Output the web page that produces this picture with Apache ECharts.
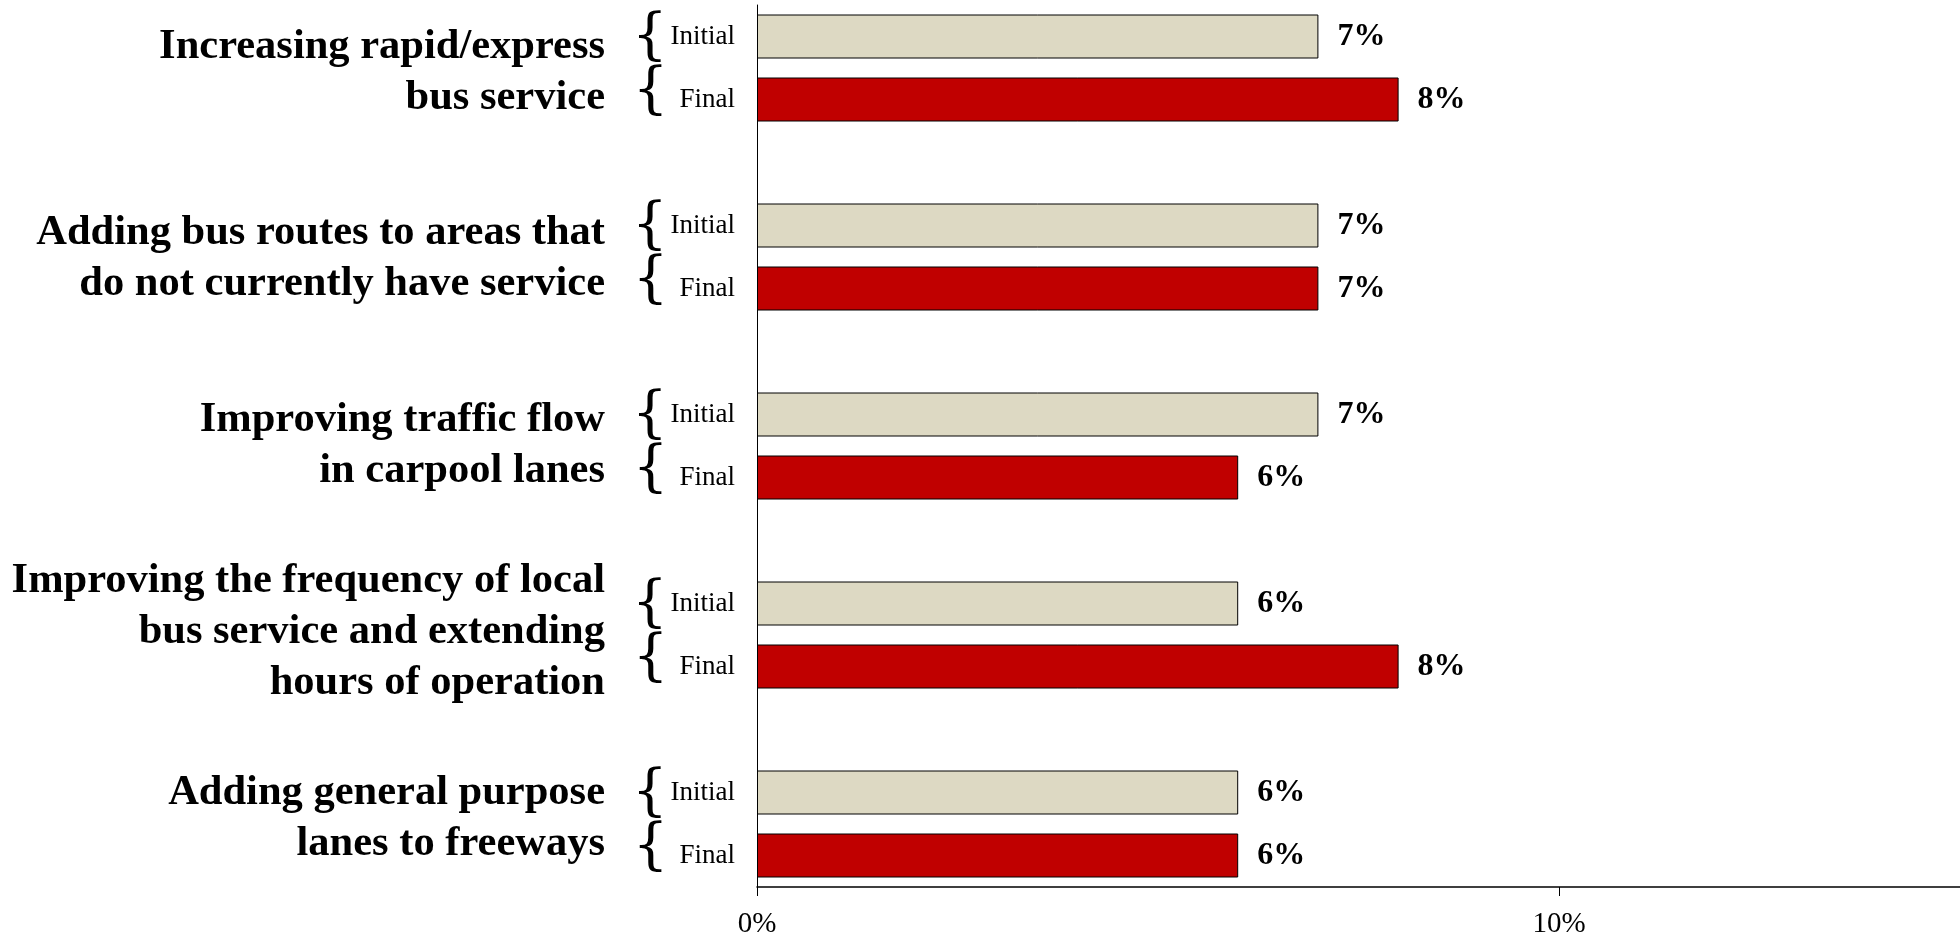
<!DOCTYPE html>
<html>
<head>
<meta charset="utf-8">
<script src="https://cdn.jsdelivr.net/npm/echarts@6/dist/echarts.min.js"></script>
<style>html,body{margin:0;padding:0;background:#fff;}#c{width:1960px;height:938px;}</style>
</head>
<body>
<div id="c"></div>
<script>
const groupNames = [
  'Increasing rapid/express\nbus service',
  'Adding bus routes to areas that\ndo not currently have service',
  'Improving traffic flow\nin carpool lanes',
  'Improving the frequency of local\nbus service and extending\nhours of operation',
  'Adding general purpose\nlanes to freeways'
];
const seriesNames = ['Initial', 'Final'];
const initialValues = [7, 7, 7, 6, 6];
const finalValues = [8, 7, 6, 8, 6];
const xTickValues = [0, 10];

// rows: Initial, Final, gap per group
const rowKeys = [];
groupNames.forEach((g, i) => {
  rowKeys.push(i + '|Initial', i + '|Final');
  if (i < groupNames.length - 1) rowKeys.push(i + '|gap');
});
function rowData(kind, values) {
  return rowKeys.map(k => {
    const [i, t] = k.split('|');
    return t === kind ? values[+i] : '-';
  });
}
const FONT = 'Liberation Serif';
const BRACE_FONT = 'DejaVu Serif';
const labelStyle = {
  show: true, position: 'right', distance: 19,
  fontFamily: FONT, fontWeight: 'bold', fontSize: 32, color: '#000',
  formatter: p => p.value + '%'
};
const chart = echarts.init(document.getElementById('c'));
chart.setOption({
  backgroundColor: '#fff',
  animation: false,
  grid: [
    { left: 757, right: 0, top: 5, bottom: 51, containLabel: false, outerBoundsMode: 'none' },
    { left: 757, right: 0, top: -21, height: 933, containLabel: false, outerBoundsMode: 'none' }
  ],
  xAxis: [{
    type: 'value', min: 0, max: 15, interval: 10,
    splitLine: { show: false },
    axisLine: { show: true, lineStyle: { color: '#000', width: 1.5 } },
    axisTick: { show: true, length: 9, lineStyle: { color: '#000' } },
    axisLabel: {
      fontFamily: FONT, fontSize: 29, color: '#000', margin: 23, showMaxLabel: false,
      formatter: v => xTickValues.indexOf(v) >= 0 ? v + '%' : ''
    }
  }, {
    type: 'value', gridIndex: 1, min: 0, max: 15, show: false
  }],
  yAxis: [{
    type: 'category', inverse: true, data: rowKeys,
    axisLine: { show: true, lineStyle: { color: '#000', width: 1 } },
    axisTick: { show: false },
    axisLabel: {
      interval: 0, margin: 22, color: '#000', fontFamily: FONT,
      formatter: k => {
        const t = k.split('|')[1];
        if (t === 'Initial') return '{b1|{}{t1|' + seriesNames[0] + '}';
        if (t === 'Final') return '{b2|{}{t2|' + seriesNames[1] + '}';
        return '';
      },
      rich: {
        b1: { fontFamily: BRACE_FONT, fontSize: 56, color: '#000', verticalAlign: 'middle', padding: [4, 0, 0, 0] },
        b2: { fontFamily: BRACE_FONT, fontSize: 56, color: '#000', verticalAlign: 'middle', padding: [0, 0, 14, 0] },
        t1: { fontFamily: FONT, fontSize: 27, color: '#000', padding: [0, 0, 0, 3], verticalAlign: 'middle' },
        t2: { fontFamily: FONT, fontSize: 27, color: '#000', padding: [0, 0, 0, 11], verticalAlign: 'middle' }
      }
    }
  }, {
    type: 'category', gridIndex: 1, inverse: true, data: groupNames,
    axisLine: { show: false }, axisTick: { show: false },
    axisLabel: {
      interval: 0, margin: 152, color: '#000', fontFamily: FONT,
      fontSize: 42.5, fontWeight: 'bold', lineHeight: 51
    }
  }],
  series: [{
    name: seriesNames[0], type: 'bar', xAxisIndex: 0, yAxisIndex: 0, data: rowData('Initial', initialValues),
    barWidth: 44, barGap: '-100%',
    itemStyle: { color: '#DDD9C3', borderColor: '#000', borderWidth: 1 },
    label: labelStyle
  }, {
    name: seriesNames[1], type: 'bar', xAxisIndex: 0, yAxisIndex: 0, data: rowData('Final', finalValues),
    barWidth: 44, barGap: '-100%',
    itemStyle: { color: '#C00000', borderColor: '#000', borderWidth: 1 },
    label: labelStyle
  }]
});
</script>
</body>
</html>
